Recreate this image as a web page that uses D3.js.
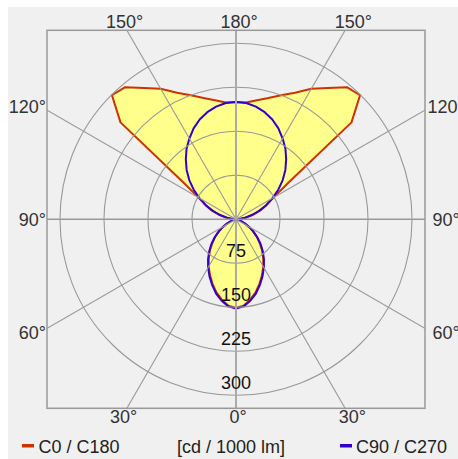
<!DOCTYPE html>
<html>
<head>
<meta charset="utf-8">
<script src="https://d3js.org/d3.v7.min.js"></script>
<style>
  body { margin: 0; background: #fff; }
  text { font-family: "Liberation Sans", Arial, Helvetica, sans-serif; }
</style>
</head>
<body>
<div id="chart"></div>
<script>
// gamma angles (0 = straight down, 180 = straight up)
const gammas = [0,5,10,15,20,25,30,35,40,45,50,55,60,65,70,75,80,85,90,
                95,100,105,110,115,120,125,130,135,140,145,150,155,160,165,170,175,180];
// luminous intensity, cd / 1000 lm
const c0c180 = [151,148,139,129,117,105,93,81,69,57,46,35,25,16,9,5,2,1,0,
                7,17,30,44,58,73,110,257,299,294,273,257,238,225,214,206,200,200];
const c90c270 = [152,149,141,131,119,107,95,83,71,59,47,36,26,17,10,5,2,1,0,
                 6,16,28,42,56,72,88,104,119,133,147,159,171,181,189,195,199,200];
const ringTicks = [75, 150, 225, 300];
const angleTicks = [0, 30, 60, 90, 120, 150, 180];
const seriesNames = ["C0 / C180", "C90 / C270"];
const unitLabel = "[cd / 1000 lm]";

const W = 458, H = 459;
const cx = 236, cy = 219.3, half = 189;
const red = "#cc3300", blue = "#3300cc";

const svg = d3.select("#chart").append("svg")
    .attr("width", W).attr("height", H);

svg.append("rect").attr("x", 8).attr("y", 7)
    .attr("width", W - 8).attr("height", H - 7).attr("fill", "#f0f0f0");

const r = d3.scaleLinear().domain([0, 300]).range([0, 176]);

svg.append("clipPath").attr("id", "box")
  .append("rect").attr("x", cx - half).attr("y", cy - half)
  .attr("width", half * 2).attr("height", half * 2);

const g = svg.append("g").attr("transform", `translate(${cx},${cy})`);

// closed outline: right half going up, left half coming back down
function outline(vals) {
  const pts = [];
  gammas.forEach((a, i) => pts.push([Math.PI - a * Math.PI / 180, r(vals[i])]));
  for (let i = gammas.length - 2; i > 0; i--)
    pts.push([Math.PI + gammas[i] * Math.PI / 180, r(vals[i])]);
  return pts;
}
const line = d3.lineRadial().curve(d3.curveLinearClosed);

// fills
[c0c180, c90c270].forEach(v => {
  g.append("path").attr("d", line(outline(v)))
    .attr("fill", "#ffff8c").attr("stroke", "none");
});

// grid
const grid = svg.append("g").attr("clip-path", "url(#box)")
  .append("g").attr("transform", `translate(${cx},${cy})`);
grid.selectAll("circle").data(ringTicks).enter().append("circle")
  .attr("r", d => r(d)).attr("fill", "none")
  .attr("stroke", "#999").attr("stroke-width", 1.1);
const spokes = [];
angleTicks.forEach(a => {
  spokes.push(a);
  if (a > 0 && a < 180) spokes.push(-a);
});
grid.selectAll("line").data(spokes).enter().append("line")
  .attr("x1", 0).attr("y1", 0)
  .attr("x2", d => 400 * Math.sin(d * Math.PI / 180))
  .attr("y2", d => 400 * Math.cos(d * Math.PI / 180))
  .attr("stroke", d => (d === 0 || d === 180) ? "#aaa" : "#999")
  .attr("stroke-width", d => (d === 0 || d === 180) ? 2 : (Math.abs(d) === 90 ? 1.5 : 1.1));

svg.append("rect").attr("x", cx - half).attr("y", cy - half)
  .attr("width", half * 2).attr("height", half * 2)
  .attr("fill", "none").attr("stroke", "#999").attr("stroke-width", 1.5);

// curves
g.append("path").attr("d", line(outline(c0c180)))
  .attr("fill", "none").attr("stroke", red).attr("stroke-width", 2)
  .attr("stroke-linejoin", "round");
g.append("path").attr("d", line(outline(c90c270)))
  .attr("fill", "none").attr("stroke", blue).attr("stroke-width", 2)
  .attr("stroke-linejoin", "round");

// ring labels
svg.selectAll("text.ring").data(ringTicks).enter().append("text")
  .attr("class", "ring")
  .attr("x", cx).attr("y", d => cy + r(d) - 6)
  .attr("text-anchor", "middle").attr("font-size", 18).attr("fill", "#111")
  .text(d => d);

// angle labels
const lab = svg.append("g").attr("font-size", 18).attr("fill", "#333");
spokes.forEach(d => {
  const a = Math.abs(d), s = d < 0 ? -1 : 1, rad = a * Math.PI / 180;
  const t = lab.append("text").text(a + "°");
  if (a <= 30) {
    t.attr("x", cx + 2 + s * 198 * Math.tan(rad)).attr("y", 423).attr("text-anchor", "middle");
  } else if (a >= 150) {
    t.attr("x", cx + 3 + s * 198 * Math.tan(Math.PI - rad)).attr("y", 27.5).attr("text-anchor", "middle");
  } else {
    const y = cy + 196 / Math.tan(rad) + 6.5;
    if (s < 0) t.attr("x", 46).attr("y", y).attr("text-anchor", "end");
    else t.attr("x", 446).attr("y", y).attr("text-anchor", "middle");
  }
});

// legend
const leg = svg.append("g").attr("font-size", 18).attr("fill", "#222");
leg.append("rect").attr("x", 22).attr("y", 444).attr("width", 12).attr("height", 3.5).attr("fill", red);
leg.append("text").attr("x", 38.5).attr("y", 453).text(seriesNames[0]);
leg.append("rect").attr("x", 340).attr("y", 444).attr("width", 12).attr("height", 3.5).attr("fill", blue);
leg.append("text").attr("x", 356).attr("y", 453).text(seriesNames[1]);
leg.append("text").attr("x", 231).attr("y", 453).attr("text-anchor", "middle").text(unitLabel);
</script>
</body>
</html>
